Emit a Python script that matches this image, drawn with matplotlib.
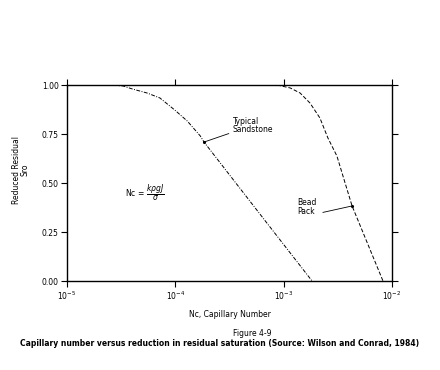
import matplotlib
matplotlib.use("Agg")
import matplotlib.pyplot as plt
from matplotlib.ticker import LogLocator, NullLocator, LogFormatterMathtext

# capillary number vs reduced residual saturation
sand_nc = [1e-5, 2.6e-5, 3.3e-5, 4.0e-5, 5.5e-5, 7.2e-5, 9.9e-5, 1.29e-4,
           1.70e-4, 1.84e-4, 7.0e-4, 1.83e-3]
sand_sr = [1.0, 1.0, 0.995, 0.98, 0.959, 0.934, 0.872, 0.816,
           0.74, 0.709, 0.296, 0.0]

bead_nc = [1e-5, 8.7e-4, 1.15e-3, 1.42e-3, 1.75e-3, 2.16e-3, 2.56e-3,
           3.10e-3, 4.28e-3, 8.26e-3]
bead_sr = [1.0, 1.0, 0.985, 0.959, 0.908, 0.832, 0.730, 0.638, 0.383, 0.0]

sand_pt = (1.84e-4, 0.709)
bead_pt = (4.28e-3, 0.383)
yticks = [0.0, 0.25, 0.5, 0.75, 1.0]

FS = 5.5

fig = plt.figure(figsize=(4.4, 3.7), dpi=100)
ax = fig.add_axes([0.1523, 0.2405, 0.7386, 0.5297])

ax.plot(sand_nc, sand_sr, color="black", lw=0.7, ls=(0, (4, 1.5, 1, 1.5)))
ax.plot(bead_nc, bead_sr, color="black", lw=0.7, ls=(0, (4, 2)))

ax.set_xscale("log")
ax.set_xlim(1e-5, 1e-2)
ax.set_ylim(0, 1)
ax.xaxis.set_major_locator(LogLocator(base=10, numticks=10))
ax.xaxis.set_major_formatter(LogFormatterMathtext())
ax.xaxis.set_minor_locator(NullLocator())
ax.set_yticks(yticks)
ax.set_yticklabels([f"{v:.2f}" for v in yticks])
ax.tick_params(which="both", direction="out", length=4, width=0.8,
               labelsize=FS, pad=2, top=True, right=True)
for s in ax.spines.values():
    s.set_linewidth(1.0)

ax.set_xlabel("Nc, Capillary Number", fontsize=FS, labelpad=6)
fig.text(0.047, 0.54, "Reduced Residual\nSro", rotation=90,
         fontsize=FS, ha="center", va="center", linespacing=0.9)

# annotations
ax.plot(*sand_pt, "k.", ms=2.5)
ax.annotate("Typical\nSandstone", xy=sand_pt, xytext=(3.4e-4, 0.795),
            fontsize=FS, ha="left", va="center", linespacing=0.9,
            arrowprops=dict(arrowstyle="-", lw=0.6, color="black",
                            shrinkA=1, shrinkB=0))
ax.plot(*bead_pt, "k.", ms=2.5)
ax.text(1.33e-3, 0.378, "Bead\nPack", fontsize=FS, ha="left", va="center",
        linespacing=0.9)
ax.annotate("", xy=bead_pt, xytext=(2.3e-3, 0.35),
            arrowprops=dict(arrowstyle="-", lw=0.6, color="black",
                            shrinkA=0, shrinkB=0))
ax.text(3.4e-5, 0.45, r"Nc = $\dfrac{k\rho gJ}{\sigma}$", fontsize=FS,
        ha="left", va="center")

fig.text(0.573, 1 - 333 / 370, "Figure 4-9", fontsize=FS,
         ha="center", va="center")
fig.text(0.5, 1 - 343 / 370,
         "Capillary number versus reduction in residual saturation "
         "(Source: Wilson and Conrad, 1984)",
         fontsize=FS, fontweight="bold", ha="center", va="center")

fig.savefig("out.png", dpi=100)
